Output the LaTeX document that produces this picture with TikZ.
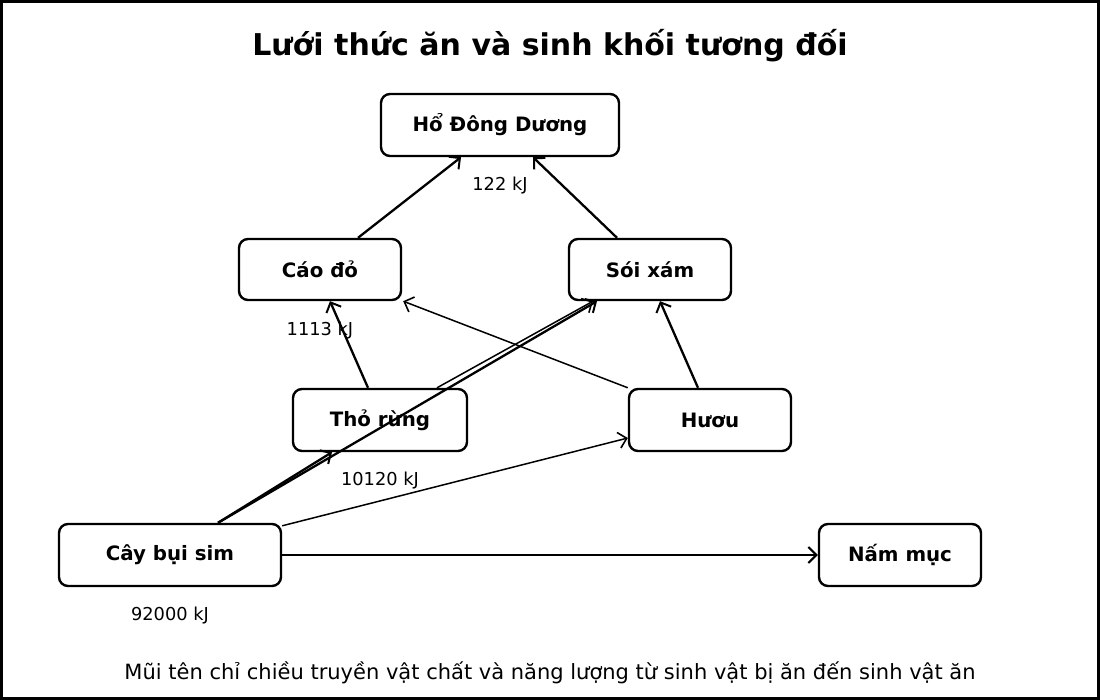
\documentclass[tikz,border=0pt]{standalone}
\usepackage{fontspec}
\setmainfont{DejaVu Sans}
\usetikzlibrary{arrows.meta,calc}
\begin{document}
\begin{tikzpicture}[x=1pt,y=-1pt,
  box/.style={draw,line width=2.4pt,rounded corners=9pt,inner sep=0pt,font=\bfseries\fontsize{19.8}{22}\selectfont},
  lbl/.style={font=\fontsize{17.8}{20}\selectfont,inner sep=0pt},
  arr/.style={-{Straight Barb[length=8pt,width=16pt,line width=2pt]},line width=2.3pt},
  arrthin/.style={-{Straight Barb[length=8pt,width=16pt,line width=1.6pt]},line width=1.5pt}]
\draw[line width=3.2pt,fill=white] (1.6,1.6) rectangle (1098.4,698.4);
\useasboundingbox (0,0) rectangle (1100,700);
\node[font=\bfseries\fontsize{30}{34}\selectfont] (title) at (550,46) {Lưới thức ăn và sinh khối tương đối};
\node[box,minimum width=238pt,minimum height=62pt] (ho) at (500,125) {Hổ Đông Dương};
\node[box,minimum width=162pt,minimum height=61pt] (cao) at (320,269.5) {Cáo đỏ};
\node[box,minimum width=162pt,minimum height=61pt] (soi) at (650,269.5) {Sói xám};
\node[box,minimum width=174pt,minimum height=62pt] (tho) at (380,420) {Thỏ rừng};
\node[box,minimum width=162pt,minimum height=62pt] (huou) at (710,420) {Hươu};
\node[box,minimum width=222pt,minimum height=62pt] (cay) at (170,555) {Cây bụi sim};
\node[box,minimum width=162pt,minimum height=62pt] (nam) at (900,555) {Nấm mục};
\node[lbl] (l1) at (500,186) {122 kJ};
\node[lbl] (l2) at (320,331) {1113 kJ};
\node[lbl] (l3) at (380,481) {10120 kJ};
\node[lbl] (l4) at (170,616) {92000 kJ};
\node[font=\fontsize{21}{24}\selectfont] (foot) at (550,673) {Mũi tên chỉ chiều truyền vật chất và năng lượng từ sinh vật bị ăn đến sinh vật ăn};
\draw[arr] ([xshift=48pt]cay.north) -- ([xshift=-48pt]tho.south);
\draw[arr] ([xshift=48pt]cay.north) -- ([xshift=-53pt]soi.south);
\draw[arrthin] ([xshift=57pt]tho.north) -- ([xshift=-57pt]soi.south);
\draw[arrthin] ([yshift=-3pt]cay.north east) -- ([yshift=-18pt]huou.west);
\draw[arrthin] (huou.north west) -- ([xshift=1pt]cao.south east);
\draw[arr] ([xshift=-12pt]tho.north) -- ([xshift=10pt]cao.south);
\draw[arr] ([xshift=-12pt]huou.north) -- ([xshift=10pt]soi.south);
\draw[arr] ([xshift=38pt]cao.north) -- ([xshift=-39pt]ho.south);
\draw[arr] ([xshift=-33pt]soi.north) -- ([xshift=33pt]ho.south);
\draw[arr] (cay.east) -- (nam.west);
\end{tikzpicture}
\end{document}
